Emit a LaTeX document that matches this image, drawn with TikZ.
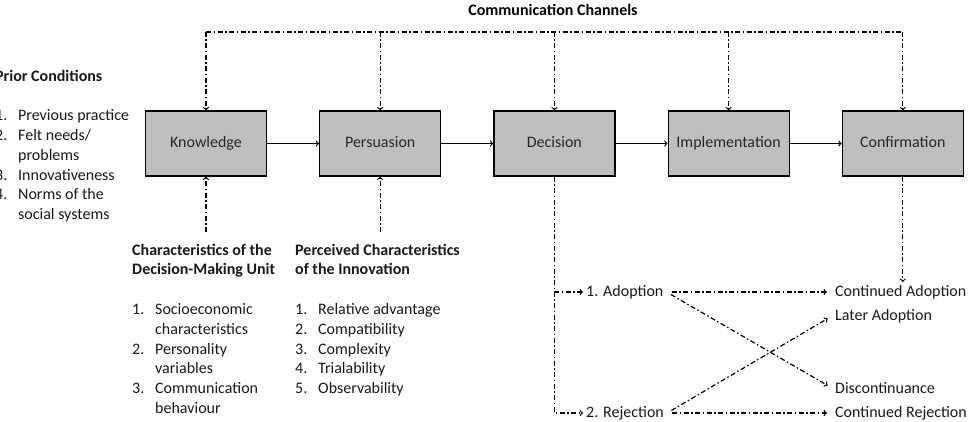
\documentclass[tikz,border=0pt]{standalone}
\usepackage{fontspec}
\setmainfont{Carlito}
\usetikzlibrary{positioning,calc}
\tikzset{stage/.style={draw=black, fill=black!25, rectangle, minimum width=121pt, minimum height=65pt, line width=1.2pt, text height=1.8ex, text depth=.2ex, text=black!85}}
\tikzset{channel/.style={line width=1.2pt, dash pattern=on 5pt off 2.5pt on 1.5pt off 2.5pt}}
\tikzset{textblock/.style={anchor=north west, inner sep=0pt, align=left, text=black!90}}
\tikzset{outcome/.style={anchor=west, inner sep=3pt, text=black!90}}

\begin{document}
\begin{tikzpicture}[x=1pt, y=-1pt, font=\fontsize{16}{19.8}\selectfont]
\useasboundingbox (0,0) rectangle (973,422);
% the five stages
\node[stage] (know) at (206,143.5) {Knowledge};
\node[stage, right=52pt of know] (pers) {Persuasion};
\node[stage, right=52pt of pers] (dec) {Decision};
\node[stage, right=52pt of dec] (impl) {Implementation};
\node[stage, right=52pt of impl] (conf) {Confirmation};
\draw[line width=1.2pt, ->] (know) -- (pers);
\draw[line width=1.2pt, ->] (pers) -- (dec);
\draw[line width=1.2pt, ->] (dec) -- (impl);
\draw[line width=1.2pt, ->] (impl) -- (conf);

% communication channels
\node[font=\fontsize{16}{19.8}\selectfont\bfseries] (chan) at (553,10) {Communication Channels};
\coordinate (top) at (553,32);
\draw[channel] (know.north |- top) -- (conf.north |- top);
\foreach \s in {know,pers,dec,impl,conf}
  \draw[channel, ->] (\s.north |- top) -- (\s.north);

% side texts
\node[textblock] (prior) at (-5,67) {\begin{tabular}{@{}p{23pt}@{}l@{}}
\multicolumn{2}{@{}l@{}}{\bfseries Prior Conditions}\\
\\
1. & Previous practice\\
2. & Felt needs/\\
   & problems\\
3. & Innovativeness\\
4. & Norms of the\\
   & social systems
\end{tabular}};
\node[textblock] (dmu) at (132,241) {\begin{tabular}{@{}p{23pt}@{}l@{}}
\multicolumn{2}{@{}l@{}}{\bfseries Characteristics of the}\\
\multicolumn{2}{@{}l@{}}{\bfseries Decision-Making Unit}\\
\\
1. & Socioeconomic\\
   & characteristics\\
2. & Personality\\
   & variables\\
3. & Communication\\
   & behaviour
\end{tabular}};
\node[textblock] (innov) at (295,241) {\begin{tabular}{@{}p{23pt}@{}l@{}}
\multicolumn{2}{@{}l@{}}{\bfseries Perceived Characteristics}\\
\multicolumn{2}{@{}l@{}}{\bfseries of the Innovation}\\
\\
1. & Relative advantage\\
2. & Compatibility\\
3. & Complexity\\
4. & Trialability\\
5. & Observability
\end{tabular}};
\draw[channel, ->] ($(know.south |- dmu.north)+(0,-9)$) -- (know.south);
\draw[channel, ->] ($(pers.south |- innov.north)+(0,-9)$) -- (pers.south);

% decision outcomes
\node[outcome] (adop) at (583,292) {1. Adoption};
\node[outcome] (rej) at (583,413) {2. Rejection};
\draw[channel, ->] (dec.south) |- (rej.west);
\draw[channel, ->] (dec.south |- adop) -- (adop.west);

\node[outcome] (contadop) at (832,292) {Continued Adoption};
\node[outcome] (later) at (832,316) {Later Adoption};
\node[outcome] (disc) at (832,388) {Discontinuance};
\node[outcome] (contrej) at (832,413) {Continued Rejection};
\draw[channel, ->, shorten <=5pt, shorten >=5pt] (adop) -- (contadop);
\draw[channel, ->, shorten <=5pt, shorten >=5pt] (adop.east) -- (disc.west);
\draw[channel, ->, shorten <=5pt, shorten >=5pt] (rej.east) -- (later.west);
\draw[channel, ->, shorten <=5pt, shorten >=5pt] (rej) -- (contrej);
\draw[channel, ->] (conf.south) -- (conf.south |- contadop.north);
\end{tikzpicture}
\end{document}
